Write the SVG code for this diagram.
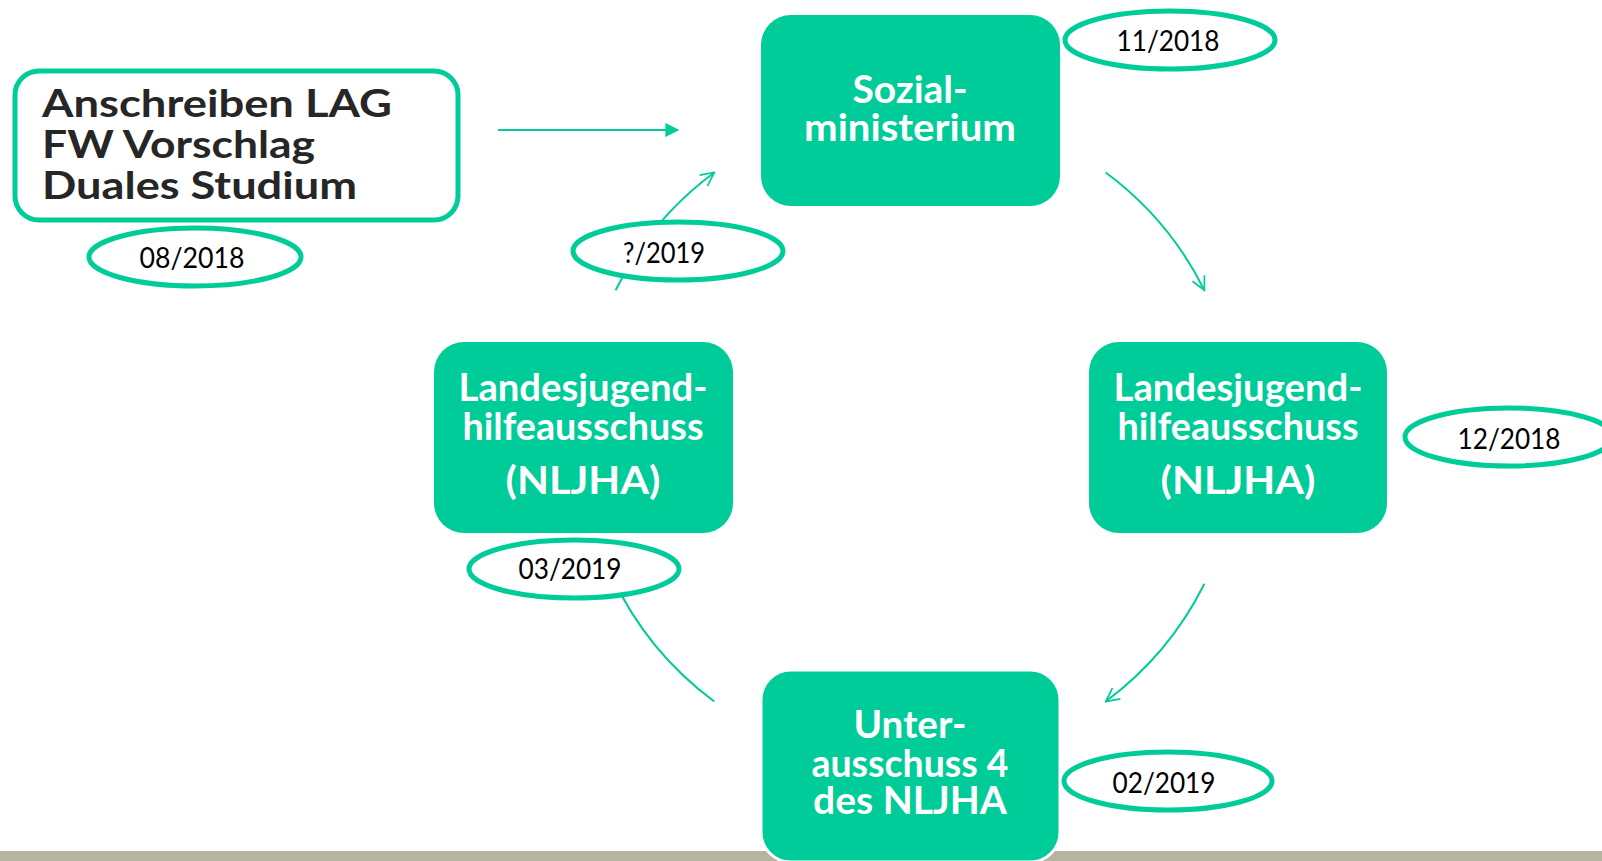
<svg xmlns="http://www.w3.org/2000/svg" width="1602" height="861" viewBox="0 0 1602 861">
<style>
.box{fill:#00CC99;stroke:none}
.wt{font-family:Lato,"Liberation Sans",sans-serif;font-weight:700;font-size:38px;fill:#FFFFFF;text-anchor:middle}
.bt{font-family:Lato,"Liberation Sans",sans-serif;font-weight:700;font-size:38px;fill:#262626}
.ell{fill:#FFFFFF;stroke:#00CC99;stroke-width:5}
.dt{font-family:Lato,"Liberation Sans",sans-serif;font-size:28px;fill:#000000;text-anchor:middle}
.arc{fill:none;stroke:#00CC99;stroke-width:2}
</style>
<defs>
<marker id="open" viewBox="0 0 12 12" refX="11" refY="6" markerWidth="16" markerHeight="16" markerUnits="userSpaceOnUse" orient="auto">
<path d="M1,1 L11,6 L1,11" fill="none" stroke="#00CC99" stroke-width="1.3"/>
</marker>
<marker id="solid" viewBox="0 0 10 10" refX="9" refY="5" markerWidth="14" markerHeight="14" markerUnits="userSpaceOnUse" orient="auto">
<path d="M0,0 L10,5 L0,10 Z" fill="#00CC99"/>
</marker>
</defs>
<rect x="0" y="0" width="1602" height="861" fill="#FFFFFF"/>
<rect x="0" y="851" width="1602" height="10" fill="#B5B3A1"/>

<g id="connectors">
<line x1="498" y1="130" x2="678" y2="130" stroke="#00CC99" stroke-width="2" marker-end="url(#solid)"/>
<path class="arc" d="M1105.7,172.5 A329,329 0 0 1 1204.4,290.2" marker-end="url(#open)"/>
<path class="arc" d="M1204.4,583.8 A329,329 0 0 1 1105.7,701.5" marker-end="url(#open)"/>
<path class="arc" d="M714.3,701.5 A329,329 0 0 1 611.8,576" marker-end="url(#open)"/>
<path class="arc" d="M615.6,290.2 A329,329 0 0 1 714.3,172.5" marker-end="url(#open)"/>
</g>

<g id="node-anschreiben">
<rect x="15" y="71" width="443" height="149" rx="24" fill="#FFFFFF" stroke="#00CC99" stroke-width="5"/>
<text class="bt" x="42" y="117" textLength="350" lengthAdjust="spacingAndGlyphs">Anschreiben LAG</text>
<text class="bt" x="42" y="158" textLength="273" lengthAdjust="spacingAndGlyphs">FW Vorschlag</text>
<text class="bt" x="42" y="199" textLength="315" lengthAdjust="spacingAndGlyphs">Duales Studium</text>
</g>
<g id="date-08-2018">
<ellipse class="ell" cx="195" cy="257" rx="106" ry="29"/>
<text class="dt" x="192" y="268" textLength="105" lengthAdjust="spacingAndGlyphs">08/2018</text>
</g>

<g id="node-sozialministerium">
<rect class="box" x="761" y="15" width="299" height="191" rx="30"/>
<text class="wt" x="910" y="103" textLength="115" lengthAdjust="spacingAndGlyphs">Sozial-</text>
<text class="wt" x="910" y="141" textLength="212" lengthAdjust="spacingAndGlyphs">ministerium</text>
</g>
<g id="date-11-2018">
<ellipse class="ell" cx="1170" cy="40" rx="105" ry="29"/>
<text class="dt" x="1168" y="51" textLength="103" lengthAdjust="spacingAndGlyphs">11/2018</text>
</g>

<g id="node-nljha-right">
<rect class="box" x="1089" y="342" width="298" height="191" rx="30"/>
<text class="wt" x="1238" y="401" textLength="249" lengthAdjust="spacingAndGlyphs">Landesjugend-</text>
<text class="wt" x="1238" y="440" textLength="241" lengthAdjust="spacingAndGlyphs">hilfeausschuss</text>
<text class="wt" x="1238" y="494" textLength="155" lengthAdjust="spacingAndGlyphs">(NLJHA)</text>
</g>
<g id="date-12-2018">
<ellipse class="ell" cx="1509" cy="437" rx="104" ry="29"/>
<text class="dt" x="1509" y="449" textLength="103" lengthAdjust="spacingAndGlyphs">12/2018</text>
</g>

<g id="node-unterausschuss">
<rect x="761" y="670" width="299" height="192" rx="30" fill="#00CC99" stroke="#FFFFFF" stroke-width="3"/>
<text class="wt" x="910" y="738" textLength="113" lengthAdjust="spacingAndGlyphs">Unter-</text>
<text class="wt" x="910" y="777" textLength="197" lengthAdjust="spacingAndGlyphs">ausschuss 4</text>
<text class="wt" x="910" y="814" textLength="194" lengthAdjust="spacingAndGlyphs">des NLJHA</text>
</g>
<g id="date-02-2019">
<ellipse class="ell" cx="1168" cy="781" rx="104" ry="29"/>
<text class="dt" x="1164" y="793" textLength="103" lengthAdjust="spacingAndGlyphs">02/2019</text>
</g>

<g id="node-nljha-left">
<rect class="box" x="434" y="342" width="299" height="191" rx="30"/>
<text class="wt" x="583" y="401" textLength="249" lengthAdjust="spacingAndGlyphs">Landesjugend-</text>
<text class="wt" x="583" y="440" textLength="241" lengthAdjust="spacingAndGlyphs">hilfeausschuss</text>
<text class="wt" x="583" y="494" textLength="155" lengthAdjust="spacingAndGlyphs">(NLJHA)</text>
</g>
<g id="date-03-2019">
<ellipse class="ell" cx="574" cy="569" rx="105" ry="29"/>
<text class="dt" x="570" y="579" textLength="103" lengthAdjust="spacingAndGlyphs">03/2019</text>
</g>

<g id="date-q-2019">
<ellipse class="ell" cx="678" cy="251" rx="105" ry="29"/>
<text class="dt" x="664" y="263" textLength="82" lengthAdjust="spacingAndGlyphs">?/2019</text>
</g>
</svg>
